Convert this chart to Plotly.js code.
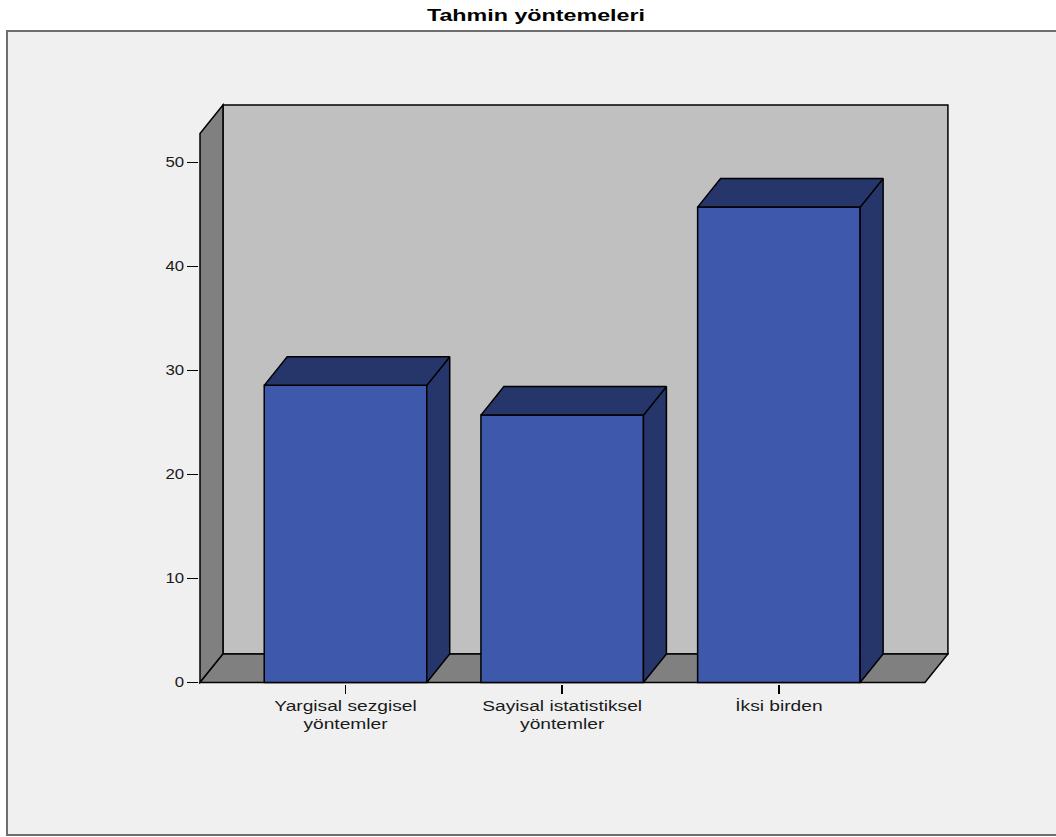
<!DOCTYPE html>
<html>
<head>
<meta charset="utf-8">
<script src="https://cdn.plot.ly/plotly-3.0.1.min.js"></script>
<style>
  html, body { margin: 0; padding: 0; background: #ffffff; }
  #chart { width: 1056px; height: 837px; }
</style>
</head>
<body>
<div id="chart"></div>
<script>
// Forecasting methods: share of respondents (%)
const categories = ['Yargisal sezgisel<br>yöntemler', 'Sayisal istatistiksel<br>yöntemler', 'İksi birden'];
const percents = [28.57, 25.71, 45.71];
const yTickValues = [0, 10, 20, 30, 40, 50];
const chartTitle = 'Tahmin yöntemeleri';

// Pseudo-3D styling
const barWidth = 0.75;
const depthX = 0.106;   // receding offset along x (category units)
const depthY = 2.74;    // receding offset along y (value units)
const frontColor = '#3e58ab';
const shadeColor = '#26356a';
const edge = { color: '#000000', width: 1.5 };

// Axis extents and the box (floor / walls)
const xRange = [-0.676, 2.785];
const yRange = [-0.144, 55.72];
const boxLeft = -0.6714, boxRight = 2.674, wallTop = 55.53;

// Plot area in pixels, used to place the outer frame in paper units
const W = 1056, H = 837;
const L = 199, R = 949, T = 103, B = 684;
const px = v => (v - L) / (R - L);
const py = v => (B - v) / (B - T);

const xPos = categories.map((_, i) => i);

// Top and side faces of each bar, derived from the values
const topX = [], topY = [], sideX = [], sideY = [];
xPos.forEach((x, i) => {
  const v = percents[i];
  const xl = x - barWidth / 2, xr = x + barWidth / 2;
  topX.push(xl, xr, xr + depthX, xl + depthX, xl, null);
  topY.push(v, v, v + depthY, v + depthY, v, null);
  sideX.push(xr, xr + depthX, xr + depthX, xr, xr, null);
  sideY.push(0, depthY, v + depthY, v, 0, null);
});

const traces = [
  {
    type: 'bar', x: xPos, y: percents, width: barWidth,
    marker: { color: frontColor, line: edge },
    hoverinfo: 'skip', showlegend: false
  },
  {
    type: 'scatter', mode: 'lines', x: sideX, y: sideY, fill: 'toself',
    fillcolor: shadeColor, line: edge, hoverinfo: 'skip', showlegend: false
  },
  {
    type: 'scatter', mode: 'lines', x: topX, y: topY, fill: 'toself',
    fillcolor: shadeColor, line: edge, hoverinfo: 'skip', showlegend: false
  }
];

const poly = pts => 'M' + pts.map(p => p[0] + ',' + p[1]).join('L') + 'Z';

const shapes = [
  // outer chart frame
  {
    type: 'rect', xref: 'paper', yref: 'paper', layer: 'below',
    x0: px(7), x1: px(1058), y0: py(835), y1: py(31),
    fillcolor: '#f0f0f0', line: { color: '#6e6e6e', width: 2 }
  },
  // back wall
  {
    type: 'path', xref: 'x', yref: 'y', layer: 'below',
    path: poly([[boxLeft + depthX, depthY], [boxRight + depthX, depthY],
                [boxRight + depthX, wallTop], [boxLeft + depthX, wallTop]]),
    fillcolor: '#c0c0c0', line: edge
  },
  // left wall
  {
    type: 'path', xref: 'x', yref: 'y', layer: 'below',
    path: poly([[boxLeft, 0], [boxLeft + depthX, depthY],
                [boxLeft + depthX, wallTop], [boxLeft, wallTop - depthY]]),
    fillcolor: '#808080', line: edge
  },
  // floor
  {
    type: 'path', xref: 'x', yref: 'y', layer: 'below',
    path: poly([[boxLeft, 0], [boxRight, 0],
                [boxRight + depthX, depthY], [boxLeft + depthX, depthY]]),
    fillcolor: '#808080', line: edge
  }
];

const tickFont = { family: 'Liberation Sans, Arial, sans-serif', size: 14, color: '#1a1a1a' };

const layout = {
  width: W, height: H,
  margin: { l: L, r: W - R, t: T, b: H - B, pad: 0 },
  paper_bgcolor: '#ffffff',
  plot_bgcolor: 'rgba(0,0,0,0)',
  title: {
    text: '<b>' + chartTitle + '</b>',
    font: { family: 'Liberation Sans, Arial, sans-serif', size: 17, color: '#000000' },
    x: 536 / W, xanchor: 'center',
    y: 1 - 15 / H, yref: 'container', yanchor: 'middle'
  },
  xaxis: {
    range: xRange, showgrid: false, zeroline: false, showline: false,
    tickmode: 'array', tickvals: xPos, ticktext: categories,
    ticks: 'outside', ticklen: 9, tickwidth: 1.5, tickcolor: '#000000',
    tickfont: tickFont, fixedrange: true
  },
  yaxis: {
    range: yRange, showgrid: false, zeroline: false, showline: false,
    tickmode: 'array', tickvals: yTickValues,
    ticks: 'outside', ticklen: 11, tickwidth: 1.5, tickcolor: '#000000',
    tickfont: tickFont, fixedrange: true
  },
  shapes: shapes,
  bargap: 0,
  showlegend: false
};

// Widen text horizontally about its anchor point (wide label lettering)
function widenText(gd, selector, factor) {
  gd.querySelectorAll(selector).forEach(el => {
    const ax = parseFloat(el.getAttribute('x')) || 0;
    const base = el.getAttribute('transform') || '';
    el.setAttribute('transform',
      base + ' translate(' + ax + ',0) scale(' + factor + ',1) translate(' + (-ax) + ',0)');
  });
}

Plotly.newPlot('chart', traces, layout, { displayModeBar: false, staticPlot: true })
  .then(gd => {
    widenText(gd, 'g.xtick > text', 1.37);
    widenText(gd, 'g.ytick > text', 1.2);
    widenText(gd, 'text.gtitle', 1.37);
  });
</script>
</body>
</html>
